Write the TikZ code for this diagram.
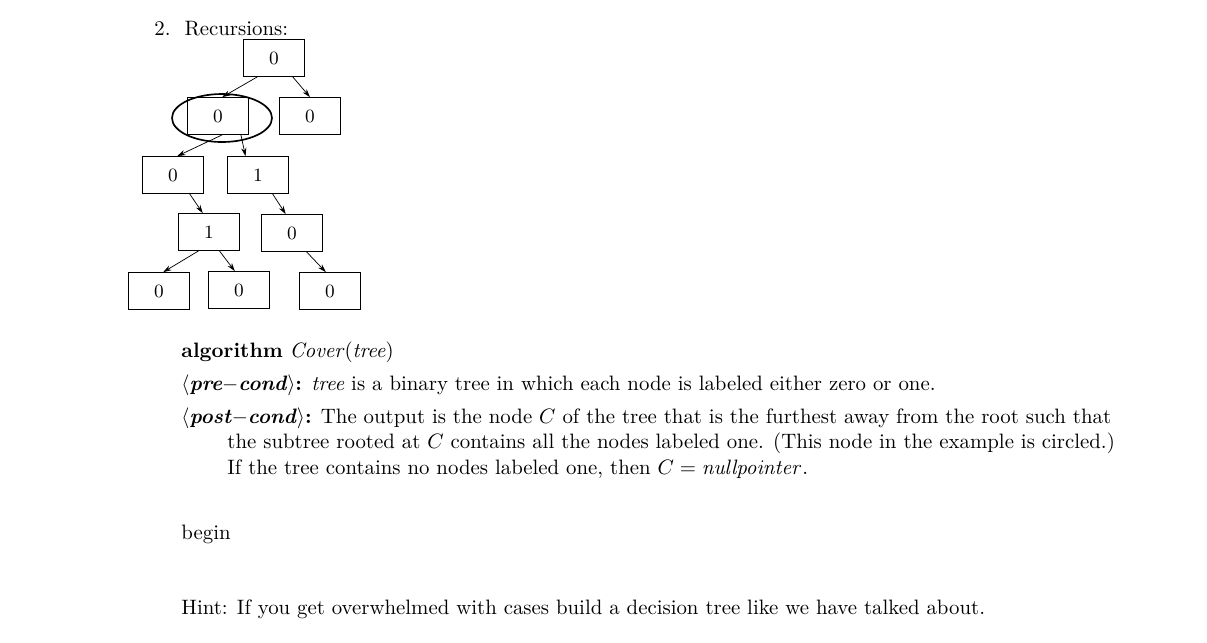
\documentclass[tikz,border=0pt]{standalone}
\usetikzlibrary{arrows.meta}
\begin{document}
\begin{tikzpicture}[x=0.48pt,y=-0.48pt,
  bx/.style={draw,line width=0.4pt,minimum width=29pt,minimum height=17.7pt,inner sep=0pt,font=\small},
  ed/.style={-{Stealth[length=4pt,width=2.5pt]},line width=0.35pt},
  tx/.style={anchor=base west,inner sep=0pt}]
\useasboundingbox (0,0) rectangle (1207,642);
\node[tx] (title) at (154,35) {2.\ \ Recursions:};
\node[bx] (r) at (274,58) {0};
\node[bx] (a) at (218,116) {0};
\node[bx] (b) at (310,116) {0};
\node[bx] (c) at (173,175) {0};
\node[bx] (d) at (258,175) {1};
\node[bx] (e) at (209,232) {1};
\node[bx] (f) at (292,233) {0};
\node[bx] (g) at (159,291) {0};
\node[bx] (h) at (239,290) {0};
\node[bx] (k) at (330,291) {0};
\draw[line width=0.8pt] (222,118) ellipse [x radius=50,y radius=24];
\draw[ed] ([xshift=-8pt]r.south) -- ([xshift=2pt]a.north);
\draw[ed] ([xshift=9pt]r.south) -- ([xshift=0pt]b.north);
\draw[ed] ([xshift=2pt]a.south) -- ([xshift=2pt]c.north);
\draw[ed] ([xshift=11pt]a.south) -- ([xshift=-6pt]d.north);
\draw[ed] ([xshift=8pt]c.south) -- ([xshift=-3pt]e.north);
\draw[ed] ([xshift=7pt]d.south) -- ([xshift=-3pt]f.north);
\draw[ed] ([xshift=-5pt]e.south) -- ([xshift=2pt]g.north);
\draw[ed] ([xshift=5pt]e.south) -- ([xshift=-2pt]h.north);
\draw[ed] ([xshift=7pt]f.south) -- ([xshift=-2pt]k.north);
\node[tx] (alg) at (181,357) {\textbf{algorithm} \textit{Cover}(\textit{tree})};
\node[tx] (pre) at (181,390) {\textbf{$\langle$\textit{pre}$-$\textit{cond}$\rangle$:} \textit{tree} is a binary tree in which each node is labeled either zero or one.};
\node[tx] (post) at (181,423) {\textbf{$\langle$\textit{post}$-$\textit{cond}$\rangle$:} The output is the node $C$ of the tree that is the furthest away from the root such that};
\node[tx] (p2) at (227,448) {the subtree rooted at $C$ contains all the nodes labeled one. (This node in the example is circled.)};
\node[tx] (p3) at (227,474) {If the tree contains no nodes labeled one, then $C = \mathit{nullpointer}$.};
\node[tx] (beg) at (181,539) {begin};
\node[tx] (hint) at (181,614) {Hint: If you get overwhelmed with cases build a decision tree like we have talked about.};
\end{tikzpicture}
\end{document}
